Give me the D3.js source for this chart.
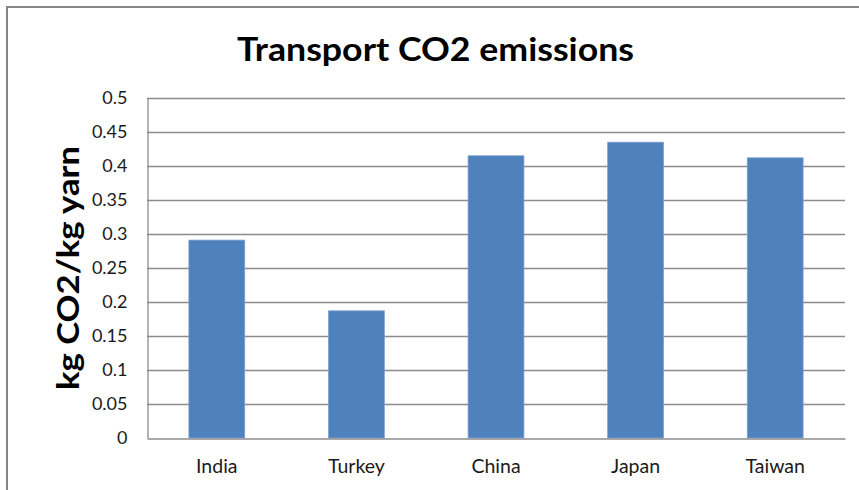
<!DOCTYPE html>
<html>
<head>
<meta charset="utf-8">
<script src="https://cdn.jsdelivr.net/npm/d3@7"></script>
<style>
  html, body { margin: 0; padding: 0; background: #fff; }
  svg { display: block; }
</style>
</head>
<body>
<div id="chart"></div>
<script>
const categories = ["India", "Turkey", "China", "Japan", "Taiwan"];
const values = [0.291, 0.187, 0.415, 0.435, 0.412];
const yTicks = [0, 0.05, 0.1, 0.15, 0.2, 0.25, 0.3, 0.35, 0.4, 0.45, 0.5];
const titleText = "Transport CO2 emissions";
const yTitle = "kg CO2/kg yarn";

const W = 859, H = 490;
const margin = { left: 147, right: 14, top: 98, bottom: 52 };
const font = "Lato, 'Open Sans', sans-serif";

const svg = d3.select("#chart").append("svg").attr("width", W).attr("height", H);
svg.append("rect").attr("width", W).attr("height", H).attr("fill", "#fff");

// outer chart border (runs off right/bottom)
svg.append("path")
  .attr("d", `M7,${H + 5} L7,7 L${W + 5},7`)
  .attr("fill", "none").attr("stroke", "#878787").attr("stroke-width", 2);

const x = d3.scaleBand().domain(categories)
  .range([margin.left, W - margin.right]).paddingInner(0.6).paddingOuter(0.3);
const y = d3.scaleLinear().domain([0, 0.5]).range([H - margin.bottom, margin.top]);

// gridlines
svg.append("g").selectAll("line").data(yTicks.slice(1)).join("line")
  .attr("x1", margin.left).attr("x2", W - margin.right)
  .attr("y1", d => Math.round(y(d)) + 0.5).attr("y2", d => Math.round(y(d)) + 0.5)
  .attr("stroke", "#8c8c8c").attr("stroke-width", 1.3);

// y axis
const yAxis = d3.axisLeft(y).tickValues(yTicks).tickSize(0).tickPadding(20)
  .tickFormat(d => String(d));
const gy = svg.append("g").attr("transform", `translate(${margin.left + 0.5},0)`).call(yAxis);
gy.select(".domain").attr("stroke", "#8c8c8c").attr("stroke-width", 1.3);
gy.selectAll("text").attr("font-family", font).attr("font-size", 18).attr("fill", "#1a1a1a");

// bars
svg.append("g").selectAll("rect").data(values).join("rect")
  .attr("x", (d, i) => x(categories[i]))
  .attr("width", x.bandwidth())
  .attr("y", d => y(d))
  .attr("height", d => y(0) - y(d))
  .attr("fill", "#4f81bd")
  .attr("stroke", "#7d9fd0").attr("stroke-width", 0.8);

// x axis
const xAxis = d3.axisBottom(x).tickSize(0).tickPadding(21);
const gx = svg.append("g").attr("transform", `translate(0,${Math.round(y(0)) + 0.5})`).call(xAxis);
gx.select(".domain").attr("stroke", "#8c8c8c").attr("stroke-width", 1.3);
gx.selectAll("text").attr("font-family", font).attr("font-size", 19.5).attr("fill", "#1a1a1a");

// title
svg.append("text")
  .attr("x", 435.5).attr("y", 61)
  .attr("text-anchor", "middle")
  .attr("font-family", font).attr("font-weight", "bold").attr("font-size", 32)
  .attr("textLength", 397).attr("lengthAdjust", "spacingAndGlyphs")
  .attr("fill", "#000")
  .text(titleText);

// y title
svg.append("text")
  .attr("transform", `translate(79,${(y(0) + y(0.5)) / 2}) rotate(-90)`)
  .attr("text-anchor", "middle")
  .attr("font-family", font).attr("font-weight", "bold").attr("font-size", 30)
  .attr("textLength", 244).attr("lengthAdjust", "spacingAndGlyphs")
  .attr("fill", "#000")
  .text(yTitle);
</script>
</body>
</html>
